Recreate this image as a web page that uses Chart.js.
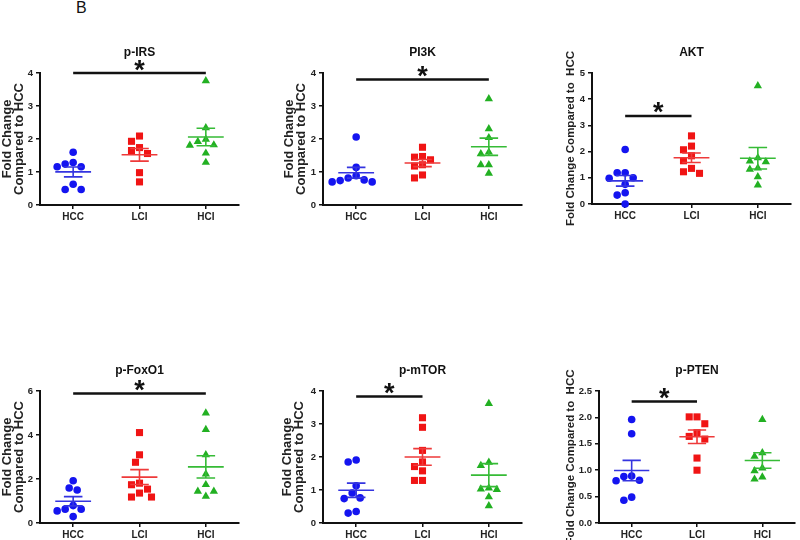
<!DOCTYPE html>
<html>
<head>
<meta charset="utf-8">
<script src="https://cdn.jsdelivr.net/npm/chart.js@4.4.1/dist/chart.umd.min.js"></script>
<style>
  body { margin: 0; background: #fff; width: 800px; height: 540px; position: relative; overflow: hidden; font-family: "Liberation Sans", Arial, sans-serif; }
  .panel { position: absolute; }
  #lab { position: absolute; left: 76px; top: 0px; font-size: 16px; line-height: 1; color: #111; }
</style>
</head>
<body>
<div id="lab">B</div>
<script>
// groups on the x axis
const groups = ['HCC', 'LCI', 'HCI'];

// fold change values
const irsHCC = [1.60, 1.29, 1.16, 1.16, 1.24, 0.63, 0.47, 0.47];
const irsLCI = [2.09, 1.93, 1.74, 1.65, 1.56, 0.98, 0.70];
const irsHCI = [3.76, 2.34, 1.99, 1.92, 1.82, 1.81, 1.57, 1.29];

const pi3kHCC = [2.06, 1.14, 0.89, 0.82, 0.76, 0.74, 0.70, 0.70];
const pi3kLCI = [1.75, 1.47, 1.45, 1.37, 1.22, 1.18, 0.91, 0.82];
const pi3kHCI = [3.22, 2.31, 2.04, 1.60, 1.55, 1.22, 1.22, 0.96];

const aktHCC = [2.08, 1.19, 1.19, 1.00, 0.98, 0.75, 0.43, 0.34, 0.00];
const aktLCI = [2.60, 2.21, 2.07, 1.84, 1.65, 1.36, 1.23, 1.17];
const aktHCI = [4.51, 1.76, 1.64, 1.61, 1.37, 1.32, 1.04, 0.72];

const foxHCC = [1.92, 1.59, 1.50, 0.79, 0.63, 0.63, 0.55, 0.29];
const foxLCI = [4.11, 3.10, 2.76, 1.81, 1.74, 1.54, 1.36, 1.18, 1.18];
const foxHCI = [5.00, 4.25, 3.10, 2.22, 1.74, 1.44, 1.44, 1.21];

const mtorHCC = [1.91, 1.85, 1.13, 0.91, 0.76, 0.74, 0.35, 0.30];
const mtorLCI = [3.19, 2.90, 2.20, 1.85, 1.71, 1.58, 1.29, 1.29];
const mtorHCI = [3.62, 1.84, 1.74, 1.06, 1.03, 1.01, 0.79, 0.52];

const ptenHCC = [1.96, 1.69, 0.89, 0.88, 0.81, 0.80, 0.49, 0.43];
const ptenLCI = [2.01, 2.01, 1.88, 1.71, 1.64, 1.59, 1.23, 1.00];
const ptenHCI = [1.96, 1.33, 1.26, 1.04, 0.99, 0.87, 0.83];

// significance bars: [from group, to group, height]
const irsSig = [1, 3, 4.0];
const pi3kSig = [1, 3, 3.8];
const aktSig = [1, 2, 3.36];
const foxSig = [1, 3, 5.89];
const mtorSig = [1, 2, 3.83];
const ptenSig = [1, 2, 2.30];

Chart.defaults.font.family = '"Liberation Sans", Arial, sans-serif';

const dotColors = ['#1414f0', '#f01414', '#22b022'];
const lineColors = ['#3434e0', '#ee3a3a', '#36bb36'];
const shapes = ['circle', 'rect', 'triangle'];
const radii = [3.8, 5, 4.8];

const twoLine = ['Fold Change', 'Compared to HCC'];
const oneLine = 'Fold Change Compared to  HCC';

// box = canvas [left, top, width, height]; area = plot [left, top, right, bottom]
const panels = [
  { title: 'p-IRS', sets: [irsHCC, irsLCI, irsHCI], sig: irsSig, yMax: 4, step: 1, dec: 0, yTitle: twoLine, box: [0, 40, 245, 190], area: [40, 73, 239, 205] },
  { title: 'PI3K', sets: [pi3kHCC, pi3kLCI, pi3kHCI], sig: pi3kSig, yMax: 4, step: 1, dec: 0, yTitle: twoLine, box: [282, 40, 246, 190], area: [323, 73, 522, 205] },
  { title: 'AKT', sets: [aktHCC, aktLCI, aktHCI], sig: aktSig, yMax: 5, step: 1, dec: 0, yTitle: oneLine, box: [562, 40, 238, 190], area: [592, 73, 791, 204] },
  { title: 'p-FoxO1', sets: [foxHCC, foxLCI, foxHCI], sig: foxSig, yMax: 6, step: 2, dec: 0, yTitle: twoLine, box: [0, 350, 245, 190], area: [40, 391, 239, 523] },
  { title: 'p-mTOR', sets: [mtorHCC, mtorLCI, mtorHCI], sig: mtorSig, yMax: 4, step: 1, dec: 0, yTitle: twoLine, box: [280, 350, 248, 190], area: [323, 391, 522, 523] },
  { title: 'p-PTEN', sets: [ptenHCC, ptenLCI, ptenHCI], sig: ptenSig, yMax: 2.5, step: 0.5, dec: 1, yTitle: oneLine, box: [562, 350, 238, 190], area: [599, 391, 800, 523] }
];

// simple beeswarm so overlapping points spread sideways
function swarm(vals, pxY, pxX) {
  const order = vals.map((v, i) => i).sort((a, b) => vals[b] - vals[a]);
  const placed = [];
  const off = vals.map(() => 0);
  for (const i of order) {
    const y = vals[i] * pxY;
    for (let k = 0; k < 30; k++) {
      const dx = k === 0 ? 0 : (k % 2 ? -1 : 1) * Math.ceil(k / 2) * 4;
      if (placed.every(p => Math.hypot(p.x - dx, p.y - y) >= 8)) {
        off[i] = dx / pxX;
        placed.push({ x: dx, y: y });
        break;
      }
    }
  }
  return off;
}

function stats(vals) {
  const n = vals.length;
  const m = vals.reduce((a, b) => a + b, 0) / n;
  const sd = Math.sqrt(vals.reduce((a, b) => a + (b - m) * (b - m), 0) / (n - 1));
  return { mean: m, sem: sd / Math.sqrt(n) };
}

const extras = {
  id: 'extras',
  afterDatasetsDraw(chart, args, opts) {
    const { ctx, chartArea } = chart;
    const xs = chart.scales.x, ys = chart.scales.y;
    ctx.save();
    // mean and SEM
    opts.sets.forEach((vals, g) => {
      const s = stats(vals);
      const cx = g + 1;
      const ym = ys.getPixelForValue(s.mean);
      const yt = ys.getPixelForValue(s.mean + s.sem);
      const yb = ys.getPixelForValue(s.mean - s.sem);
      ctx.strokeStyle = lineColors[g];
      ctx.lineWidth = 1.6;
      ctx.beginPath();
      ctx.moveTo(xs.getPixelForValue(cx - 0.27), ym);
      ctx.lineTo(xs.getPixelForValue(cx + 0.27), ym);
      ctx.moveTo(xs.getPixelForValue(cx), yt);
      ctx.lineTo(xs.getPixelForValue(cx), yb);
      ctx.moveTo(xs.getPixelForValue(cx - 0.14), yt);
      ctx.lineTo(xs.getPixelForValue(cx + 0.14), yt);
      ctx.moveTo(xs.getPixelForValue(cx - 0.14), yb);
      ctx.lineTo(xs.getPixelForValue(cx + 0.14), yb);
      ctx.stroke();
    });
    // significance bar and star
    const [a, b, h] = opts.sig;
    const yb = ys.getPixelForValue(h);
    const x1 = xs.getPixelForValue(a), x2 = xs.getPixelForValue(b);
    ctx.strokeStyle = '#111';
    ctx.lineWidth = 2.5;
    ctx.beginPath();
    ctx.moveTo(x1, yb);
    ctx.lineTo(x2, yb);
    ctx.stroke();
    ctx.fillStyle = '#111';
    ctx.font = 'bold 27px "Liberation Sans", Arial, sans-serif';
    ctx.textAlign = 'center';
    ctx.textBaseline = 'alphabetic';
    ctx.fillText('*', (x1 + x2) / 2, yb + 5.5);
    // panel title
    ctx.font = 'bold 12px "Liberation Sans", Arial, sans-serif';
    ctx.textBaseline = 'middle';
    ctx.fillText(opts.title, (chartArea.left + chartArea.right) / 2, chartArea.top - 20);
    ctx.restore();
  }
};

panels.forEach(p => {
  const [x0, y0, w, h] = p.box;
  const [cl, ct, cr, cb] = p.area;
  const div = document.createElement('div');
  div.className = 'panel';
  div.style.left = x0 + 'px';
  div.style.top = y0 + 'px';
  div.style.width = w + 'px';
  div.style.height = h + 'px';
  const cv = document.createElement('canvas');
  cv.width = w;
  cv.height = h;
  div.appendChild(cv);
  document.body.appendChild(div);

  const pxY = (cb - ct) / p.yMax, pxX = (cr - cl) / 3;
  const datasets = p.sets.map((vals, g) => {
    const off = swarm(vals, pxY, pxX);
    return {
      label: groups[g],
      data: vals.map((v, i) => ({ x: g + 1 + off[i], y: v })),
      pointStyle: shapes[g],
      pointRadius: radii[g],
      backgroundColor: dotColors[g],
      borderColor: dotColors[g],
      borderWidth: 0,
      clip: false
    };
  });
  const single = !Array.isArray(p.yTitle);

  new Chart(cv, {
    type: 'scatter',
    data: { datasets },
    plugins: [extras],
    options: {
      responsive: false,
      animation: false,
      events: [],
      layout: { padding: { top: ct - y0, right: x0 + w - cr, left: 0, bottom: 0 } },
      plugins: {
        legend: { display: false },
        tooltip: { enabled: false },
        extras: { sets: p.sets, sig: p.sig, title: p.title }
      },
      scales: {
        x: {
          type: 'linear', min: 0.5, max: 3.5,
          afterBuildTicks: s => { s.ticks = [1, 2, 3].map(v => ({ value: v })); },
          afterFit: s => { s.height = y0 + h - cb; },
          ticks: { callback: v => groups[v - 1], font: { size: 10, weight: 'bold' }, color: '#222', padding: 2, maxRotation: 0, autoSkip: false },
          grid: { drawOnChartArea: false, tickLength: 4, color: '#111', lineWidth: 1.5 },
          border: { color: '#111', width: 2 }
        },
        y: {
          min: 0, max: p.yMax,
          afterFit: s => { s.width = cl - x0; },
          ticks: { stepSize: p.step, callback: v => v.toFixed(p.dec), font: { size: 9.5, weight: 'bold' }, color: '#222', padding: 3 },
          grid: { drawOnChartArea: false, tickLength: 4, color: '#111', lineWidth: 1.5 },
          border: { color: '#111', width: 2 },
          title: {
            display: true, text: p.yTitle, color: '#222',
            font: single ? { size: 11.5, weight: 'bold', lineHeight: 1.2 } : { size: 13, weight: 'bold', lineHeight: 0.9 },
            padding: { top: 2, bottom: 0 }
          }
        }
      }
    }
  });
});
</script>
</body>
</html>
